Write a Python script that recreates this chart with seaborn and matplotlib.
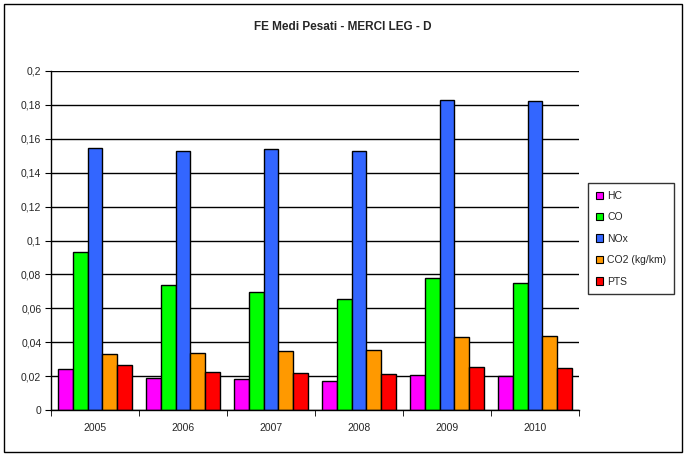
import seaborn as sns
import matplotlib.pyplot as plt
import matplotlib.ticker as mticker
from matplotlib.patches import Rectangle
import pandas as pd

years = ['2005', '2006', '2007', '2008', '2009', '2010']
series = ['HC', 'CO', 'NOx', 'CO2 (kg/km)', 'PTS']
hc = [0.0240, 0.0187, 0.0181, 0.0169, 0.0206, 0.0200]
co = [0.0930, 0.0736, 0.0694, 0.0653, 0.0777, 0.0747]
nox = [0.1544, 0.1528, 0.1538, 0.1526, 0.1827, 0.1821]
co2 = [0.0329, 0.0334, 0.0346, 0.0352, 0.0429, 0.0435]
pts = [0.0265, 0.0222, 0.0216, 0.0212, 0.0254, 0.0246]
colors = ['#FF00FF', '#00FF00', '#3366FF', '#FF9900', '#FF0000']

rows = []
for name, vals in zip(series, [hc, co, nox, co2, pts]):
    for y, v in zip(years, vals):
        rows.append({'anno': y, 'serie': name, 'valore': v})
df = pd.DataFrame(rows)

sns.set_style('white')
plt.rcParams['font.family'] = ['Liberation Sans', 'DejaVu Sans']

fig = plt.figure(figsize=(6.86, 4.57), dpi=100)
ax = fig.add_axes([51 / 686, 1 - 410 / 457, 528 / 686, 339 / 457])

sns.barplot(data=df, x='anno', y='valore', hue='serie', hue_order=series,
            palette=colors, width=0.84, gap=0, edgecolor='black', linewidth=1,
            saturation=1, ax=ax, legend=False)

ax.set_ylim(0, 0.2)
ax.set_xlim(-0.5, len(years) - 0.5)
ax.yaxis.set_major_locator(mticker.MultipleLocator(0.02))
ax.yaxis.set_major_formatter(mticker.FuncFormatter(
    lambda v, p: ('%g' % round(v, 3)).replace('.', ',')))
ax.grid(axis='y', color='black', linewidth=1)
ax.set_axisbelow(True)
for s in ['top', 'right']:
    ax.spines[s].set_visible(False)
for s in ['left', 'bottom']:
    ax.spines[s].set_color('black')
    ax.spines[s].set_linewidth(1)
ax.set_xlabel('')
ax.set_ylabel('')
ax.tick_params(axis='y', left=True, length=4, color='black', labelsize=7.5, pad=3)
ax.tick_params(axis='x', bottom=False, labelsize=7.5, pad=6)
ax.set_xticks([i + 0.5 for i in range(-1, len(years))], minor=True)
ax.tick_params(axis='x', which='minor', bottom=True, length=4, color='black')

fig.text(0.5, 1 - 27 / 457, 'FE Medi Pesati - MERCI LEG - D', ha='center', va='center',
         fontsize=8.5, fontweight='bold')

handles = [Rectangle((0, 0), 1, 1, facecolor=c, edgecolor='black', linewidth=0.8)
           for c in colors]
leg = fig.legend(handles, series, loc='upper left',
                 bbox_to_anchor=(588 / 686, 1 - 183 / 457), fontsize=7.5,
                 frameon=True, fancybox=False, edgecolor='black',
                 handlelength=0.7, handleheight=0.7, handletextpad=0.4,
                 labelspacing=1.1, borderpad=0.75, borderaxespad=0)
leg.get_frame().set_linewidth(1)

fig.patches.append(Rectangle((4 / 686, 5 / 457), 678 / 686, 448 / 457,
                             transform=fig.transFigure, fill=False,
                             edgecolor='black', linewidth=1))

fig.savefig('out.png', dpi=100)
